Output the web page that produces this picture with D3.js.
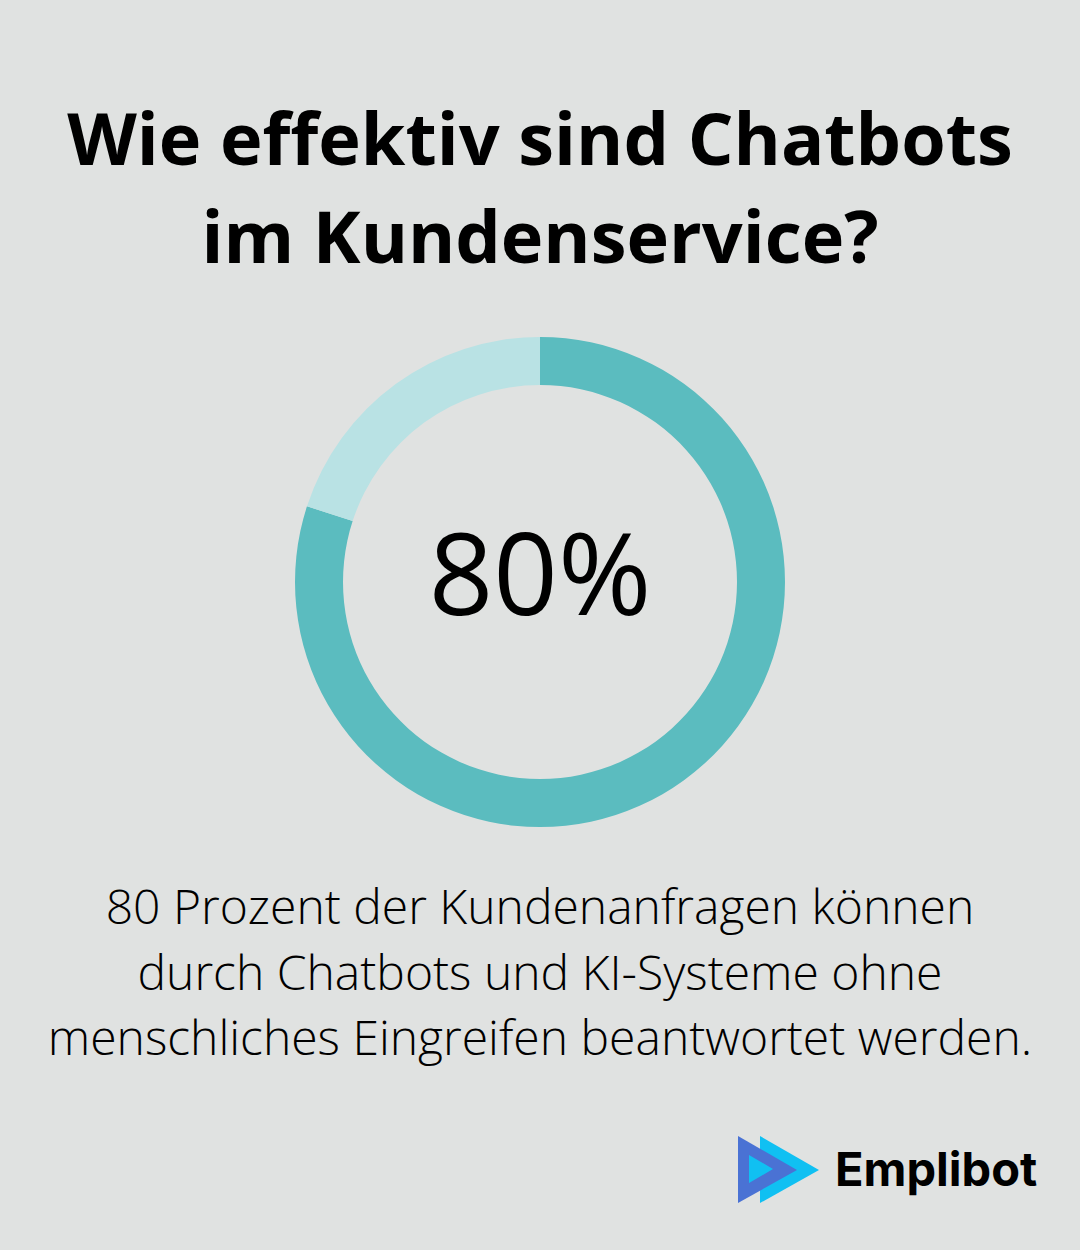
<!DOCTYPE html>
<html>
<head>
<meta charset="utf-8">
<script src="https://cdn.jsdelivr.net/npm/d3@7"></script>
<style>
  html, body { margin: 0; padding: 0; background: #e0e2e1; }
  svg { display: block; }
</style>
</head>
<body>
<svg id="chart" width="1080" height="1250"></svg>
<script>
// Data
const titleLines = ['Wie effektiv sind Chatbots', 'im Kundenservice?']
const segments   = ['Chatbots', 'Rest']
const shares     = [80, 20]
const centerText = '80%'
const bodyLines  = [
  '80 Prozent der Kundenanfragen können',
  'durch Chatbots und KI-Systeme ohne',
  'menschliches Eingreifen beantwortet werden.',
]
const brand = 'Emplibot'

const W = 1080, H = 1250
const FONT = "'Open Sans', sans-serif"

const svg = d3.select('#chart')

svg.append('rect')
  .attr('width', W).attr('height', H)
  .attr('fill', '#e0e2e1')

// Title
svg.append('g').selectAll('text')
  .data(titleLines).enter()
  .append('text')
    .attr('x', W / 2)
    .attr('y', (d, i) => 165 + i * 98)
    .attr('text-anchor', 'middle')
    .attr('font-family', FONT)
    .attr('font-weight', 700)
    .attr('font-size', 72)
    .attr('fill', '#000')
    .text((d) => d)

// Donut
const cx = 540, cy = 582
const outerR = 245, innerR = 197

const color = d3.scaleOrdinal()
  .domain(segments)
  .range(['#5bbcbf', '#b9e2e4'])

const pie = d3.pie().sort(null).value((d) => d.value)
const arc = d3.arc().innerRadius(innerR).outerRadius(outerR)

const donut = svg.append('g').attr('transform', `translate(${cx}, ${cy})`)
donut.selectAll('path')
  .data(pie(segments.map((s, i) => ({ key: s, value: shares[i] }))))
  .enter().append('path')
    .attr('d', arc)
    .attr('fill', (d) => color(d.data.key))

donut.append('text')
  .attr('y', 33)
  .attr('text-anchor', 'middle')
  .attr('font-family', FONT)
  .attr('font-weight', 400)
  .attr('font-size', 113)
  .attr('fill', '#000')
  .text(centerText)

// Description
svg.append('g').selectAll('text')
  .data(bodyLines).enter()
  .append('text')
    .attr('x', W / 2)
    .attr('y', (d, i) => 924 + i * 65.5)
    .attr('text-anchor', 'middle')
    .attr('font-family', FONT)
    .attr('font-weight', 300)
    .attr('font-size', 48)
    .attr('fill', '#000')
    .text((d) => d)

// Logo: light triangle behind, dark triangle on top with a light notch
const logo = svg.append('g').attr('transform', 'translate(738, 1136)')
logo.append('path')
  .attr('d', 'M22,0 L81,34 L22,67 Z')
  .attr('fill', '#10c0f2')
logo.append('path')
  .attr('d', 'M0,0 L59,34 L0,67 Z')
  .attr('fill', '#4a72d4')
logo.append('path')
  .attr('d', 'M11,19 L35,33 L11,47 Z')
  .attr('fill', '#10c0f2')
logo.append('text')
  .attr('x', 97)
  .attr('y', 50)
  .attr('font-family', 'Inter, sans-serif')
  .attr('font-weight', 700)
  .attr('font-size', 47)
  .attr('fill', '#000')
  .text(brand)
</script>
</body>
</html>
